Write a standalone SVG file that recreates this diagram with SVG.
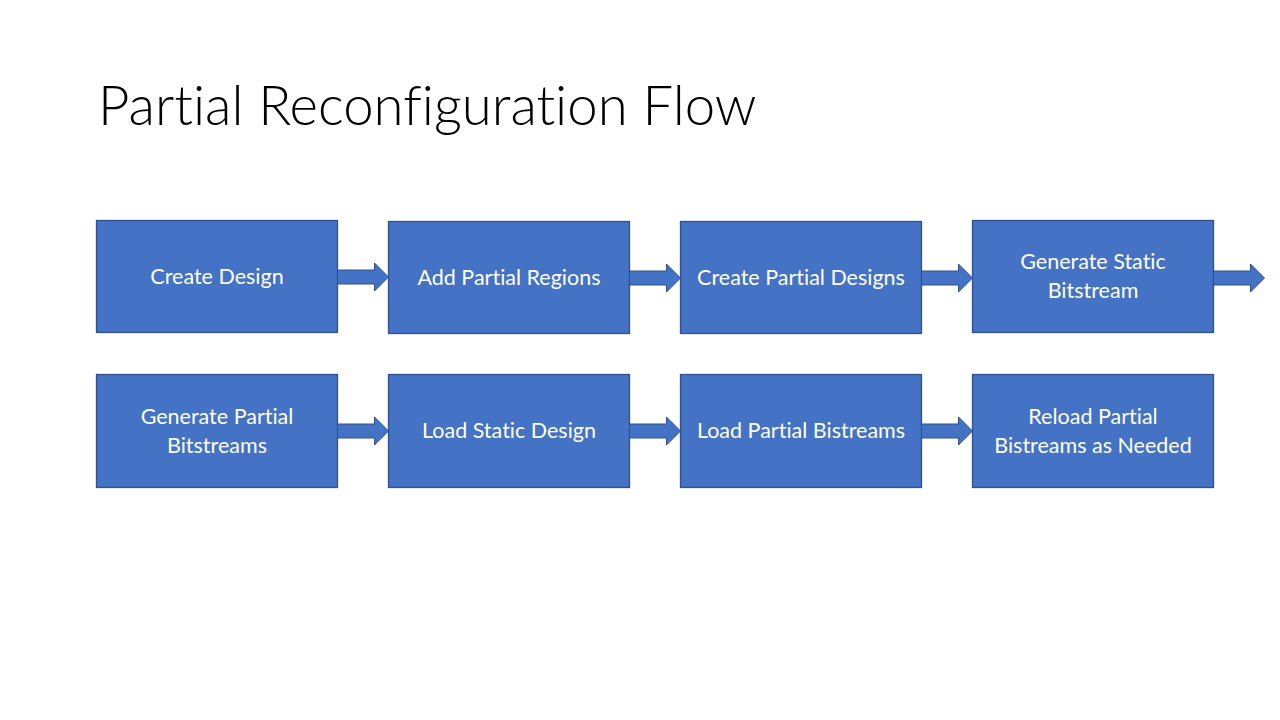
<svg xmlns="http://www.w3.org/2000/svg" width="1280" height="720" viewBox="0 0 1280 720">
<style>
.box{fill:#4472C4;stroke:#2F528F;stroke-width:1.3}
.lbl{font-family:Lato,"Open Sans","Liberation Sans",sans-serif;font-size:21.5px;fill:#FFFFFF;text-anchor:middle;font-variant-ligatures:none}
.arr{fill:#4472C4;stroke:#2F528F;stroke-width:1}
.title{font-family:Lato,"Liberation Sans",sans-serif;font-weight:300;font-size:54.5px;fill:#000000;font-variant-ligatures:none}
</style>
<defs>
<path id="ba" d="M0,-7 L37,-7 L37,-14 L51,0 L37,14 L37,7 L0,7 Z"/>
</defs>
<rect width="1280" height="720" fill="#FFFFFF"/>
<text class="title" x="98" y="125">Partial Reconfiguration Flow</text>
<g id="n1"><rect class="box" x="96.5" y="220.5" width="241" height="112"/><text class="lbl" x="217" y="284">Create Design</text></g>
<g id="n2"><rect class="box" x="388.5" y="221.5" width="241" height="112"/><text class="lbl" x="509" y="285">Add Partial Regions</text></g>
<g id="n3"><rect class="box" x="680.5" y="221.5" width="241" height="112"/><text class="lbl" x="801" y="285">Create Partial Designs</text></g>
<g id="n4"><rect class="box" x="972.5" y="220.5" width="241" height="112"/><text class="lbl" x="1093" y="269">Generate Static</text><text class="lbl" x="1093" y="298">Bitstream</text></g>
<g id="n5"><rect class="box" x="96.5" y="374.5" width="241" height="113"/><text class="lbl" x="217" y="424">Generate Partial</text><text class="lbl" x="217" y="453">Bitstreams</text></g>
<g id="n6"><rect class="box" x="388.5" y="374.5" width="241" height="113"/><text class="lbl" x="509" y="438">Load Static Design</text></g>
<g id="n7"><rect class="box" x="680.5" y="374.5" width="241" height="113"/><text class="lbl" x="801" y="438">Load Partial Bistreams</text></g>
<g id="n8"><rect class="box" x="972.5" y="374.5" width="241" height="113"/><text class="lbl" x="1093" y="424">Reload Partial</text><text class="lbl" x="1093" y="453">Bistreams as Needed</text></g>
<g id="connectors">
<use href="#ba" class="arr" transform="translate(337.5,277)"/>
<use href="#ba" class="arr" transform="translate(629.5,278)"/>
<use href="#ba" class="arr" transform="translate(921.5,278)"/>
<use href="#ba" class="arr" transform="translate(1213.5,278)"/>
<use href="#ba" class="arr" transform="translate(337.5,431)"/>
<use href="#ba" class="arr" transform="translate(629.5,431)"/>
<use href="#ba" class="arr" transform="translate(921.5,431)"/>
</g>
</svg>
